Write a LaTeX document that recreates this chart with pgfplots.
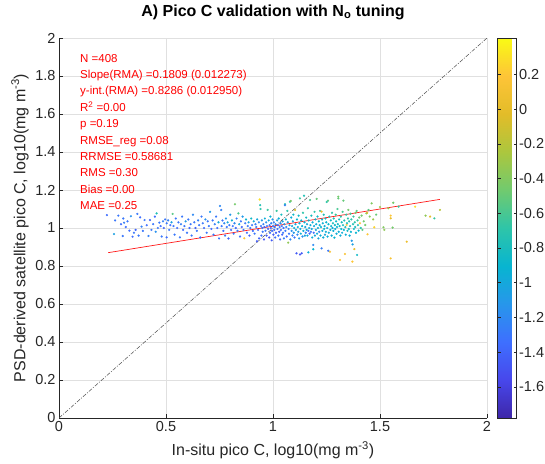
\documentclass[border=0pt]{standalone}
\usepackage{fontspec}
\setmainfont{Liberation Sans}
\usepackage{pgfplots}
\pgfplotsset{compat=1.18}
\definecolor{axgray}{rgb}{0.15,0.15,0.15}
\definecolor{gridgray}{rgb}{0.88,0.88,0.88}
\begin{document}
\begin{tikzpicture}
\path[use as bounding box] (0,0) rectangle (545pt,463pt);
\begin{axis}[
  at={(59pt,45pt)}, anchor=south west,
  scale only axis, width=428pt, height=380pt,
  xmin=0, xmax=2, ymin=0, ymax=2,
  xtick={0,0.5,1,1.5,2}, ytick={0,0.2,...,2},
  axis x line*=bottom, axis y line*=left,
  axis line style={axgray, line width=0.5pt, -},
  tick align=inside, major tick length=4pt,
  tick style={axgray, line width=0.5pt},
  grid=major, major grid style={gridgray, line width=0.5pt},
  /pgf/number format/assume math mode=true,
  tick label style={font=\fontsize{14.5}{15}\selectfont, text=axgray},
  xlabel={In-situ pico C, log10(mg m\textsuperscript{-3})},
  ylabel={PSD-derived satellite pico C, log10(mg m\textsuperscript{-3})},
  label style={font=\fontsize{16}{18}\selectfont, text=axgray},
  xlabel style={at={(axis description cs:0.5,-0.084)}, anchor=center},
  ylabel style={at={(axis description cs:-0.091,0.5)}, anchor=center},
  title={A) Pico C validation with N\textsubscript{o} tuning},
  title style={font=\bfseries\fontsize{16}{18}\selectfont, at={(axis description cs:0.5,1)}, anchor=center, yshift=20pt},
  colormap={parula}{rgb=(0.2422,0.1504,0.6603) rgb=(0.2803,0.2782,0.9221) rgb=(0.2440,0.4358,0.9988) rgb=(0.1540,0.5902,0.9218) rgb=(0.0297,0.7082,0.8163) rgb=(0.1802,0.7718,0.6603) rgb=(0.4420,0.7922,0.4342) rgb=(0.6729,0.7789,0.2418) rgb=(0.8877,0.7377,0.1594) rgb=(0.9942,0.7695,0.2176) rgb=(0.9769,0.9839,0.0805)},
  point meta min=-1.78, point meta max=0.41,
  colorbar,
  colorbar style={
    at={(parent axis.north east)}, anchor=north west, xshift=2pt,
    width=19pt,
    ytick={-1.6,-1.4,-1.2,-1,-0.8,-0.6,-0.4,-0.2,0,0.2},
    /pgf/number format/assume math mode=true,
    yticklabel style={font=\fontsize{14.5}{15}\selectfont, text=axgray, xshift=-1pt},
    axis line style={axgray, line width=0.5pt},
    tick align=inside, major tick length=3pt,
    tick style={axgray, line width=0.5pt},
  },
]
\addplot[scatter, only marks, scatter src=explicit, mark=*, mark size=1.05pt,
  scatter/use mapped color={draw=mapped color, fill=mapped color}, mark options={line width=0.1pt}] table[meta index=2] {
x y c
0.224 1.068 -1.35
0.257 0.968 -1.05
0.262 1.040 -1.30
0.277 1.065 -1.30
0.290 1.020 -1.35
0.298 0.958 -1.30
0.300 1.050 -1.30
0.304 1.028 -1.25
0.312 1.005 -1.35
0.320 1.035 -1.30
0.329 0.986 -1.35
0.336 1.062 -1.15
0.344 0.954 -1.35
0.350 0.975 -1.30
0.358 0.990 -1.40
0.366 1.074 -1.30
0.372 0.960 -1.30
0.379 1.056 -1.35
0.386 1.007 -1.25
0.392 0.985 -1.30
0.400 1.042 -1.30
0.410 1.015 -1.35
0.418 0.958 -1.25
0.425 1.042 -1.40
0.432 0.990 -1.30
0.440 1.020 -1.30
0.448 1.060 -1.35
0.452 0.980 -1.15
0.456 1.077 -0.75
0.462 1.000 -1.30
0.469 1.028 -1.30
0.475 1.010 -1.35
0.480 0.955 -1.30
0.486 1.035 -1.25
0.490 1.000 -1.40
0.496 1.045 -1.30
0.503 1.025 -1.30
0.503 0.951 -1.35
0.510 1.040 -1.25
0.515 0.990 -1.30
0.520 1.015 -1.35
0.526 1.030 -1.05
0.531 1.074 -0.55
0.535 1.010 -1.30
0.540 0.965 -1.30
0.546 1.050 -1.30
0.552 1.000 -1.35
0.558 1.030 -1.30
0.565 0.951 -1.30
0.570 1.020 -1.25
0.575 1.060 -1.30
0.580 0.990 -1.35
0.586 1.010 -1.30
0.592 1.035 -1.10
0.598 0.975 -1.30
0.604 1.045 -1.30
0.610 1.000 -1.35
0.615 1.020 -1.30
0.620 0.960 -1.30
0.626 1.070 -1.20
0.632 1.030 -1.30
0.638 1.000 -1.40
0.644 0.985 -1.30
0.650 1.040 -1.25
0.655 1.015 -1.30
0.660 0.950 -1.35
0.666 1.060 -1.30
0.672 1.025 -1.30
0.678 1.000 -1.35
0.684 1.045 -1.15
0.690 0.975 -1.30
0.695 1.035 -1.30
0.700 1.010 -1.30
0.706 1.085 -1.10
0.712 0.995 -1.35
0.718 1.040 -1.30
0.722 0.965 -1.30
0.728 1.020 -1.25
0.734 1.060 -1.30
0.740 1.000 -1.35
0.745 1.030 -1.00
0.748 0.945 -1.30
0.752 1.116 -1.20
0.758 1.095 -1.25
0.760 1.010 -1.30
0.764 1.040 -1.30
0.768 0.985 -1.35
0.772 1.025 -1.20
0.776 0.960 -1.30
0.780 1.050 -1.10
0.784 1.005 -1.30
0.788 1.030 -1.00
0.792 0.945 -1.40
0.796 1.015 -1.30
0.800 1.070 -1.10
0.804 0.990 -1.35
0.808 1.040 -0.95
0.812 1.010 -1.30
0.816 0.970 -1.30
0.820 1.025 -1.20
0.822 1.125 -0.45
0.826 1.000 -1.35
0.830 1.050 -1.25
0.834 0.985 -1.30
0.838 1.077 -0.60
0.842 1.020 -1.00
0.846 0.955 -1.35
0.850 1.035 -1.30
0.854 1.005 -1.40
0.858 1.060 -1.10
0.862 0.990 -1.30
0.866 0.946 0.20
0.870 1.025 -1.30
0.874 1.045 -0.90
0.878 0.975 -1.35
0.882 1.010 -1.30
0.886 1.030 -1.05
0.890 0.960 -1.40
0.894 1.000 -1.30
0.898 1.050 -0.85
0.902 1.015 -1.30
0.906 0.985 -1.35
0.910 1.035 -1.00
0.914 0.970 -1.30
0.918 1.020 -1.25
0.922 1.005 -1.30
0.925 0.930 -1.45
0.926 1.045 -1.00
0.930 0.990 -1.40
0.934 1.030 -1.20
0.935 0.945 -1.40
0.938 1.150 0.30
0.940 1.120 -0.75
0.942 1.100 -0.70
0.944 1.010 -1.30
0.946 0.960 -1.35
0.948 1.040 -1.10
0.950 1.000 -1.35
0.952 0.980 -1.30
0.955 1.020 -1.25
0.958 0.940 -1.50
0.960 1.005 -1.40
0.962 1.050 -0.95
0.965 0.985 -1.30
0.968 1.030 -1.15
0.970 0.960 -1.45
0.972 1.010 -1.30
0.975 1.095 -0.65
0.977 0.995 -1.40
0.980 1.040 -1.00
0.982 0.950 -1.50
0.984 1.015 -1.30
0.986 0.975 -1.35
0.988 1.060 -0.90
0.990 1.000 -1.40
0.992 1.025 -1.20
0.994 0.935 -1.45
0.996 0.985 -1.35
0.998 1.045 -1.10
1.000 1.010 -1.30
1.002 0.965 -1.45
1.004 1.030 -1.25
1.006 0.990 -1.40
1.008 1.005 -1.30
1.010 0.950 -1.35
1.012 1.020 -1.20
1.014 0.975 -1.40
1.017 1.090 -0.65
1.019 1.040 -1.05
1.021 0.995 -1.30
1.023 1.015 -1.35
1.025 0.960 -1.30
1.027 1.050 -0.95
1.029 0.980 -1.45
1.031 1.005 -1.25
1.033 0.940 -1.35
1.035 1.025 -1.15
1.037 0.990 -1.35
1.039 1.070 -0.80
1.041 1.010 -1.30
1.043 0.965 -1.40
1.045 1.035 -1.05
1.047 0.975 -1.30
1.049 1.000 -1.35
1.051 0.945 -1.25
1.053 1.020 -1.10
1.056 1.125 -0.70
1.056 1.120 -1.25
1.058 0.985 -1.30
1.060 1.045 -0.90
1.062 1.005 -1.20
1.064 0.955 -1.35
1.067 1.090 -0.70
1.069 1.030 -1.00
1.071 0.923 -0.35
1.073 0.995 -1.25
1.075 0.970 -1.30
1.077 1.015 -1.05
1.079 1.138 -0.70
1.081 0.940 -1.20
1.083 1.142 -0.45
1.085 1.055 -0.95
1.087 0.985 -1.15
1.089 1.010 -1.00
1.091 0.960 -1.25
1.093 1.035 -1.00
1.095 1.070 -0.85
1.097 0.975 -1.10
1.099 1.000 -0.95
1.101 0.950 -1.30
1.103 1.095 -0.05
1.105 1.020 -1.00
1.107 0.990 -1.00
1.110 0.867 -1.45
1.112 1.045 -0.90
1.114 0.965 -1.20
1.116 1.005 -0.95
1.118 0.980 -1.05
1.120 1.065 -0.85
1.122 0.945 -1.10
1.124 1.025 -0.95
1.126 0.861 -1.50
1.126 1.156 -0.65
1.128 0.995 -1.00
1.130 0.970 -0.95
1.132 1.040 -0.90
1.134 0.867 -1.45
1.136 1.010 -0.95
1.138 0.955 -1.15
1.140 1.080 -0.70
1.142 0.985 -0.95
1.145 1.170 -0.75
1.147 1.030 -0.95
1.149 0.960 -1.00
1.151 1.005 -1.00
1.153 0.975 -1.25
1.155 1.055 -0.85
1.157 0.990 -0.95
1.159 1.020 -1.00
1.161 0.960 -1.00
1.163 1.104 -0.70
1.165 0.872 -0.95
1.165 0.985 -1.35
1.167 1.040 -0.90
1.169 1.000 -1.00
1.171 0.970 -1.40
1.173 1.147 -0.60
1.175 1.015 -0.95
1.177 0.980 -1.30
1.179 1.065 -0.80
1.181 0.995 -1.00
1.183 0.950 -0.95
1.185 1.030 -0.95
1.188 0.911 -1.20
1.188 0.888 -0.90
1.190 0.975 -1.35
1.192 1.010 -1.00
1.194 1.085 -0.70
1.196 0.960 -1.00
1.198 1.045 -0.90
1.200 0.990 -1.00
1.202 1.020 -0.95
1.204 1.153 -0.50
1.206 0.970 -0.95
1.208 1.060 -0.85
1.210 1.000 -0.95
1.212 0.945 -1.00
1.214 1.035 -0.90
1.216 0.980 -1.20
1.218 1.015 -0.95
1.220 1.090 -0.65
1.222 0.960 -0.95
1.224 1.005 -0.90
1.227 0.893 -1.25
1.227 1.086 0.05
1.229 1.045 -0.85
1.231 0.985 -0.95
1.233 1.025 -0.95
1.235 0.950 -0.95
1.237 1.070 -0.75
1.239 0.995 -0.90
1.241 1.010 -0.95
1.243 0.965 -1.00
1.245 1.050 -0.80
1.247 0.980 -0.95
1.249 1.030 -0.90
1.251 1.137 -0.70
1.253 1.000 -0.95
1.255 0.955 -0.95
1.257 1.144 -0.55
1.258 0.880 -1.30
1.259 1.020 -0.90
1.261 0.975 -0.95
1.263 1.060 -0.75
1.266 0.875 0.15
1.268 0.990 -0.95
1.270 1.040 -0.85
1.272 1.010 -0.90
1.274 0.960 -0.95
1.276 1.080 -0.70
1.278 1.000 -0.95
1.280 1.025 -0.80
1.282 0.985 -0.95
1.284 1.050 -0.75
1.287 0.949 -0.90
1.289 1.015 -0.85
1.291 0.995 -0.95
1.293 1.070 -0.65
1.295 1.035 -0.85
1.297 0.970 -0.95
1.299 1.005 -0.90
1.301 1.100 -0.60
1.303 1.020 -0.85
1.305 1.165 -0.45
1.305 1.156 -0.50
1.307 0.980 -0.95
1.309 1.045 -0.80
1.311 1.010 -0.85
1.313 0.832 0.20
1.315 0.960 -0.95
1.317 1.060 -0.70
1.319 0.995 -0.90
1.321 1.030 -0.80
1.323 0.975 -0.95
1.325 1.085 -0.60
1.327 1.015 -0.80
1.329 1.144 -0.50
1.331 0.990 -0.90
1.333 1.040 -0.75
1.336 0.863 0.15
1.338 1.005 -0.80
1.340 0.965 -0.95
1.342 1.070 -0.65
1.344 1.016 0.20
1.346 1.025 -0.80
1.348 0.985 -0.85
1.350 1.050 -0.70
1.352 1.095 -0.45
1.354 0.995 -0.85
1.356 1.035 -0.75
1.358 0.960 -0.95
1.360 1.010 -0.80
1.362 1.075 -0.60
1.364 0.980 -0.90
1.366 1.045 -0.70
1.368 0.933 -1.10
1.371 0.823 0.20
1.372 0.914 -1.05
1.374 1.020 -0.75
1.376 1.060 -0.65
1.378 0.995 -0.85
1.380 0.889 0.00
1.382 1.030 -0.70
1.384 1.005 -0.80
1.386 1.080 -0.45
1.388 0.975 -0.90
1.391 1.090 -0.55
1.393 0.858 -0.85
1.395 1.040 -0.65
1.397 1.015 -0.75
1.400 0.986 -0.90
1.403 1.055 -0.50
1.406 1.025 0.15
1.410 1.000 -0.70
1.414 1.065 -0.45
1.418 0.990 -0.55
1.424 1.035 -0.45
1.431 1.016 -0.45
1.436 1.077 -0.40
1.440 1.080 -0.10
1.442 0.967 0.20
1.446 1.095 -0.55
1.452 1.060 -0.40
1.461 1.130 -0.40
1.468 1.045 -0.30
1.473 1.004 0.25
1.482 1.070 -0.50
1.500 1.110 -0.30
1.516 1.004 -0.40
1.520 0.990 -0.35
1.539 1.104 -0.30
1.550 1.065 0.20
1.550 1.051 0.05
1.550 0.840 0.15
1.559 1.002 -0.45
1.562 1.133 -0.45
1.587 1.112 -0.65
1.625 0.928 0.05
1.664 1.112 0.30
1.713 1.065 -0.35
1.734 1.060 0.00
1.754 1.051 -0.65
1.780 1.095 -0.20
};
\addplot[black!70, line width=0.5pt, dash pattern=on 4pt off 1.5pt on 1pt off 1.5pt] coordinates {(0,0) (2,2)};
\addplot[red!90!white, line width=0.7pt] coordinates {(0.23,0.8702) (1.78,1.1506)};
\node[anchor=north west, align=left, text=red, inner sep=0pt, font=\fontsize{11.5}{16.4}\selectfont] at (axis cs:0.098,1.916) {N =408\\Slope(RMA) =0.1809 (0.012273)\\y-int.(RMA) =0.8286 (0.012950)\\R\textsuperscript{2} =0.00\\p =0.19\\RMSE\_reg =0.08\\RRMSE =0.58681\\RMS =0.30\\Bias =0.00\\MAE =0.25};
\end{axis}
\end{tikzpicture}
\end{document}
